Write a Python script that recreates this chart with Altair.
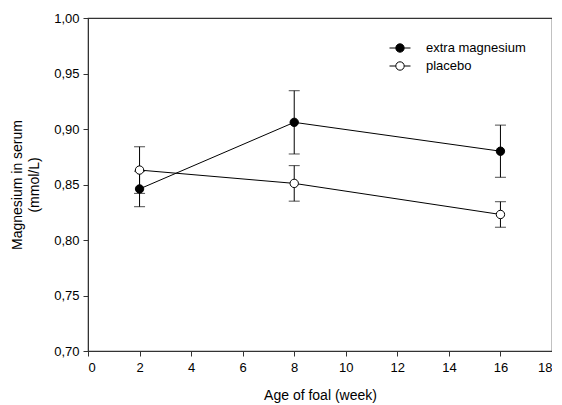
import altair as alt
import pandas as pd

weeks = [2, 8, 16]
groups = ["extra magnesium", "placebo"]
extra_mean = [0.846, 0.906, 0.880]
extra_err = [0.016, 0.0285, 0.0235]
placebo_mean = [0.863, 0.851, 0.823]
placebo_err = [0.021, 0.016, 0.0115]

rows = []
for g, means, errs in [(groups[0], extra_mean, extra_err), (groups[1], placebo_mean, placebo_err)]:
    for w, m, e in zip(weeks, means, errs):
        rows.append({"week": w, "group": g, "mean": m, "lo": m - e, "hi": m + e})
df = pd.DataFrame(rows)

FONT = "Liberation Sans"
x = alt.X("week:Q", scale=alt.Scale(domain=[0, 18], nice=False),
          axis=alt.Axis(values=list(range(0, 19, 2)), title="Age of foal (week)", grid=False,
                        format="d"))
y = alt.Y("mean:Q", scale=alt.Scale(domain=[0.70, 1.00], nice=False, zero=False),
          axis=alt.Axis(values=[0.70, 0.75, 0.80, 0.85, 0.90, 0.95, 1.00],
                        labelExpr="replace(format(datum.value, '.2f'), '.', ',')",
                        title=["Magnesium  in serum", "(mmol/L)"], grid=False))

base = alt.Chart(df)

rules = base.mark_rule(color="black", strokeWidth=1).encode(
    x=x, y=alt.Y("lo:Q"), y2="hi:Q", detail="group:N")
caps_lo = base.mark_tick(color="black", orient="horizontal", size=11, thickness=1).encode(
    x=x, y=alt.Y("lo:Q"), detail="group:N")
caps_hi = base.mark_tick(color="black", orient="horizontal", size=11, thickness=1).encode(
    x=x, y=alt.Y("hi:Q"), detail="group:N")
lines = base.mark_line(color="black", strokeWidth=1).encode(x=x, y=y, detail="group:N")

legend_path = "M-1,0H-0.4M0.4,0H1M-0.4,0A0.4,0.4 0 1,0 0.4,0A0.4,0.4 0 1,0 -0.4,0Z"
points = base.mark_point(filled=False, size=70, stroke="black", strokeWidth=1, opacity=1).encode(
    x=x, y=y,
    fill=alt.Fill("group:N", scale=alt.Scale(domain=groups, range=["black", "white"]),
                  legend=alt.Legend(title=None, orient="none", legendX=301, legendY=19,
                                    symbolType=legend_path, symbolSize=441,
                                    symbolStrokeColor="black", symbolStrokeWidth=1,
                                    labelFont=FONT, labelFontSize=13, labelColor="black",
                                    labelOffset=15, rowPadding=-8)))

chart = alt.layer(rules, caps_lo, caps_hi, lines, points).properties(
    width=464, height=333,
    autosize=alt.AutoSizeParams(type="none"),
    padding={"left": 80, "top": 10, "right": 0, "bottom": 54},
).configure_view(stroke="#333", strokeWidth=1.2).configure_axis(
    labelFont=FONT, labelFontSize=13, labelColor="black",
    titleFont=FONT, titleFontSize=14, titleFontWeight="normal", titleColor="black",
    domainColor="#333", tickColor="#333", tickSize=5, labelPadding=5,
).configure_axisY(titlePadding=12, titleLineHeight=17, labelPadding=4).configure_axisX(titlePadding=14)

chart.save("out.html", embed_options={"renderer": "svg", "actions": False})
